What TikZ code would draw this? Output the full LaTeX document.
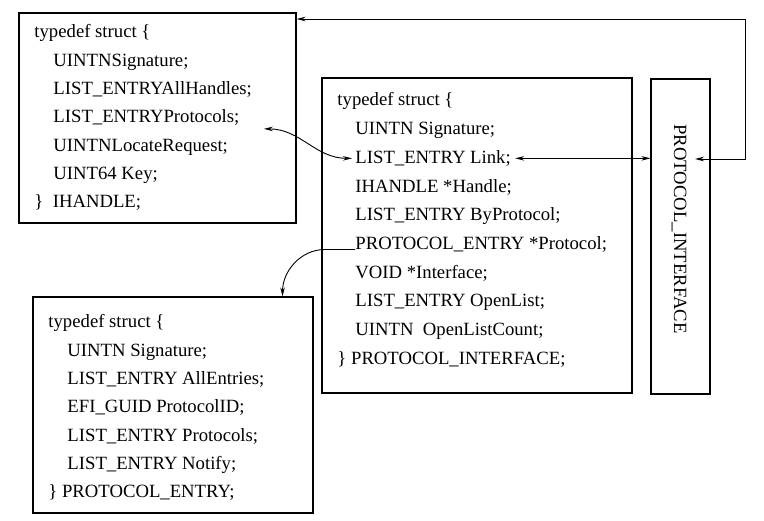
\documentclass[tikz,border=0pt]{standalone}
\usepackage{fontspec}
\setmainfont{Liberation Serif}
\usetikzlibrary{arrows.meta}
\tikzset{
  box/.style={draw,line width=1.1pt,inner sep=0pt},
  code/.style={inner sep=0pt,anchor=base west,font=\fontsize{18.7}{22}\selectfont},
}
\begin{document}
\begin{tikzpicture}[x=1pt,y=-1pt,>={Stealth[length=9pt,width=4.5pt]},line width=0.9pt]
\useasboundingbox (0,0) rectangle (764,521);
% boxes
\node[box,minimum width=277pt,minimum height=210pt](ihbox) at (157.5,118){};
\node[box,minimum width=310pt,minimum height=315pt](pibox) at (477,235.5){};
\node[box,minimum width=59pt,minimum height=315pt](pibar) at (680.5,236.5){};
\node[box,minimum width=280pt,minimum height=216pt](pebox) at (173,405){};

% IHANDLE
\node[code](ih1) at (34,38){typedef struct \{};
\node[code](ih2) at (53,66.3){UINTNSignature;};
\node[code](ih3) at (53,94.6){LIST\_ENTRYAllHandles;};
\node[code](ih4) at (53,122.9){LIST\_ENTRYProtocols;};
\node[code](ih5) at (53,151.2){UINTNLocateRequest;};
\node[code](ih6) at (53,179.5){UINT64 Key;};
\node[code](ih7) at (34,207.8){\}\ \ IHANDLE;};

% PROTOCOL_INTERFACE
\node[code](pi1) at (337,106){typedef struct \{};
\node[code](pi2) at (355,134.7){UINTN Signature;};
\node[code](pi3) at (355,163.4){LIST\_ENTRY Link;};
\node[code](pi4) at (355,192.1){IHANDLE *Handle;};
\node[code](pi5) at (355,220.8){LIST\_ENTRY ByProtocol;};
\node[code](pi6) at (355,249.5){PROTOCOL\_ENTRY *Protocol;};
\node[code](pi7) at (355,278.2){VOID *Interface;};
\node[code](pi8) at (355,306.9){LIST\_ENTRY OpenList;};
\node[code](pi9) at (355,335.6){UINTN\ \ OpenListCount;};
\node[code](pi10) at (337,364.3){\} PROTOCOL\_INTERFACE;};
\node[code,anchor=center,rotate=-90](pitext) at (679,229){PROTOCOL\_INTERFACE};

% PROTOCOL_ENTRY
\node[code](pe1) at (48,328){typedef struct \{};
\node[code](pe2) at (67,356.3){UINTN Signature;};
\node[code](pe3) at (67,384.6){LIST\_ENTRY AllEntries;};
\node[code](pe4) at (67,412.9){EFI\_GUID ProtocolID;};
\node[code](pe5) at (67,441.2){LIST\_ENTRY Protocols;};
\node[code](pe6) at (67,469.5){LIST\_ENTRY Notify;};
\node[code](pe7) at (48,497.8){\} PROTOCOL\_ENTRY;};

% links
\coordinate (loop) at (745,19);
\coordinate (pitip) at (695,159);
\draw[<->](ihbox.east |- loop)--(loop)|-(pitip);
\draw[<->]([xshift=4pt]pi3.east)--(pi3.east -| pibar.west);
\draw[<->]([xshift=24pt,yshift=-6pt]ih4.base east) to[out=0,in=180] ([xshift=-3pt]pi3.west);
\draw[->](pi6.base west)--++(-30,0) to[out=180,in=90] ([xshift=-31pt]pebox.north east);
\end{tikzpicture}
\end{document}
